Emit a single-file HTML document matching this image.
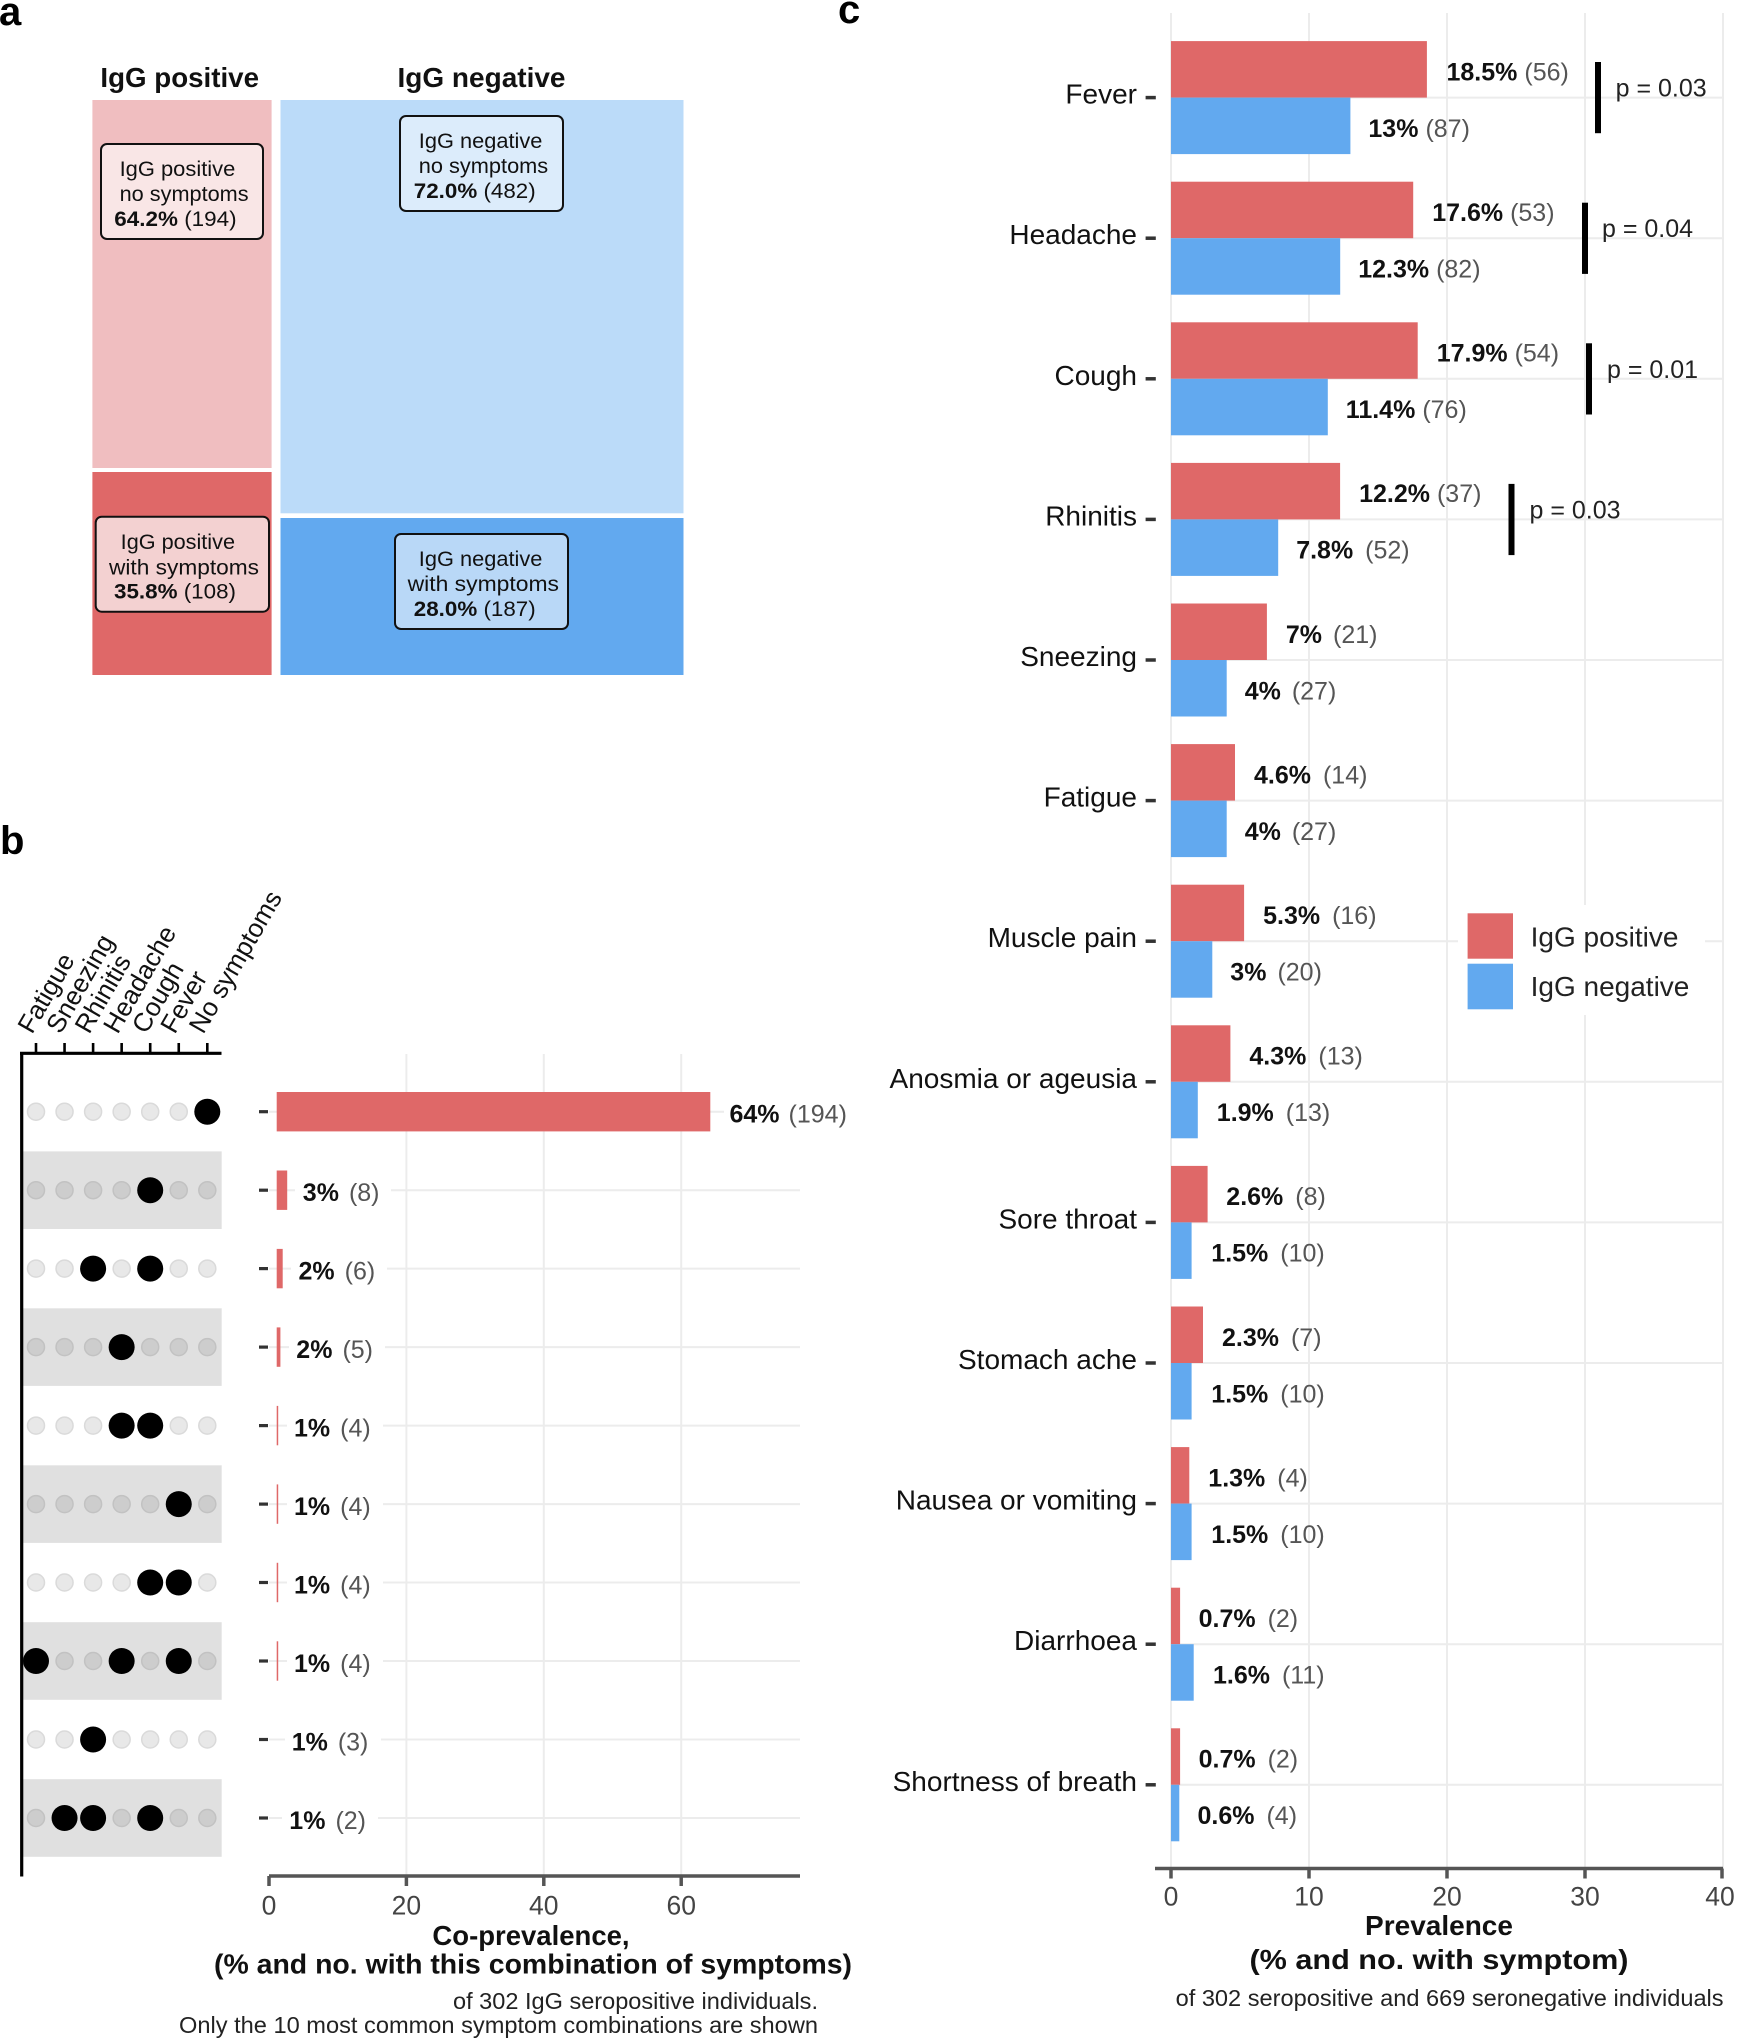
<!DOCTYPE html>
<html><head><meta charset="utf-8">
<style>
html,body{margin:0;padding:0;background:#fff;}
svg{display:block;font-family:"Liberation Sans",Arial,sans-serif;}
.g{fill:#e8e8e8;stroke:#dadada;stroke-width:1.5}
.G{fill:#cdcdcd;stroke:#c2c2c2;stroke-width:1.5}
.k{fill:#000}
.grid{stroke:#ececec;stroke-width:2;fill:none}
.lab{font-size:25px;fill:#111}
.lab .n{fill:#555;font-weight:normal}
.lab .b{font-weight:bold}
.cat{font-size:28px;fill:#111;text-anchor:end}
.tick{font-size:26.5px;fill:#444;text-anchor:middle}
</style></head>
<body>
<svg width="1738" height="2039" viewBox="0 0 1738 2039" xmlns="http://www.w3.org/2000/svg">
<rect x="0" y="0" width="1738" height="2039" fill="#fff"/>

<!-- panel letters -->
<text x="-1" y="25" font-size="40" font-weight="bold" fill="#000">a</text>
<text x="0" y="854" font-size="40" font-weight="bold" fill="#000">b</text>
<text x="838" y="23" font-size="40" font-weight="bold" fill="#000">c</text>

<!-- ================= PANEL A ================= -->
<text x="100.4" y="87" font-size="28" font-weight="bold" fill="#111" textLength="158.6" lengthAdjust="spacingAndGlyphs">IgG positive</text>
<text x="397.5" y="87" font-size="28" font-weight="bold" fill="#111" textLength="168" lengthAdjust="spacingAndGlyphs">IgG negative</text>

<rect x="92.4" y="100" width="179.2" height="368" fill="#f0bec0"/>
<rect x="92.4" y="472" width="179.2" height="203" fill="#df6868"/>
<rect x="280.5" y="100" width="403" height="413.3" fill="#bbdbf9"/>
<rect x="280.5" y="518" width="403" height="157" fill="#62a9ef"/>

<g font-size="21.5" fill="#111">
<rect x="101" y="144" width="162" height="95" rx="6" fill="#f9e6e6" stroke="#111" stroke-width="2"/>
<text x="119.6" y="176" textLength="115.7" lengthAdjust="spacingAndGlyphs">IgG positive</text>
<text x="119.6" y="201" textLength="129" lengthAdjust="spacingAndGlyphs">no symptoms</text>
<text x="114.3" y="226" textLength="122.3" lengthAdjust="spacingAndGlyphs"><tspan font-weight="bold">64.2%</tspan> (194)</text>

<rect x="400" y="116" width="163" height="95" rx="6" fill="#dcecfb" stroke="#111" stroke-width="2"/>
<text x="418.8" y="148" textLength="123.6" lengthAdjust="spacingAndGlyphs">IgG negative</text>
<text x="418.8" y="173" textLength="129.4" lengthAdjust="spacingAndGlyphs">no symptoms</text>
<text x="413.8" y="198" textLength="121.9" lengthAdjust="spacingAndGlyphs"><tspan font-weight="bold">72.0%</tspan> (482)</text>

<rect x="95.7" y="516.7" width="173.3" height="95" rx="6" fill="#f3d1d1" stroke="#111" stroke-width="2"/>
<text x="120.7" y="549" textLength="114.3" lengthAdjust="spacingAndGlyphs">IgG positive</text>
<text x="109" y="574.5" textLength="150" lengthAdjust="spacingAndGlyphs">with  symptoms</text>
<text x="114" y="598.5" textLength="122" lengthAdjust="spacingAndGlyphs"><tspan font-weight="bold">35.8%</tspan> (108)</text>

<rect x="395" y="534" width="173" height="95" rx="6" fill="#b9d8f7" stroke="#111" stroke-width="2"/>
<text x="418.8" y="566" textLength="123.6" lengthAdjust="spacingAndGlyphs">IgG negative</text>
<text x="407.6" y="591" textLength="151.4" lengthAdjust="spacingAndGlyphs">with  symptoms</text>
<text x="413.8" y="616" textLength="121.9" lengthAdjust="spacingAndGlyphs"><tspan font-weight="bold">28.0%</tspan> (187)</text>
</g>

<!-- ================= PANEL B ================= -->
<!-- rotated labels -->
<g font-size="26" fill="#111">
<text transform="translate(32,1035) rotate(-60)">Fatigue</text>
<text transform="translate(60.55,1035) rotate(-60)">Sneezing</text>
<text transform="translate(89.1,1035) rotate(-60)">Rhinitis</text>
<text transform="translate(117.65,1035) rotate(-60)">Headache</text>
<text transform="translate(146.2,1035) rotate(-60)">Cough</text>
<text transform="translate(174.75,1035) rotate(-60)">Fever</text>
<text transform="translate(203.3,1035) rotate(-60)">No symptoms</text>
</g>

<!-- bands -->
<g fill="#e0e0e0">
<rect x="21" y="1151.4" width="200.7" height="77.6"/>
<rect x="21" y="1308.3" width="200.7" height="77.6"/>
<rect x="21" y="1465.3" width="200.7" height="77.6"/>
<rect x="21" y="1622.2" width="200.7" height="77.6"/>
<rect x="21" y="1779.2" width="200.7" height="77.6"/>
</g>

<!-- dots -->
<g>
<circle class="g" cx="36" cy="1111.7" r="8.5"/><circle class="g" cx="64.55" cy="1111.7" r="8.5"/><circle class="g" cx="93.1" cy="1111.7" r="8.5"/><circle class="g" cx="121.65" cy="1111.7" r="8.5"/><circle class="g" cx="150.2" cy="1111.7" r="8.5"/><circle class="g" cx="178.75" cy="1111.7" r="8.5"/><circle class="k" cx="207.3" cy="1111.7" r="13"/>
<circle class="G" cx="36" cy="1190.2" r="8.5"/><circle class="G" cx="64.55" cy="1190.2" r="8.5"/><circle class="G" cx="93.1" cy="1190.2" r="8.5"/><circle class="G" cx="121.65" cy="1190.2" r="8.5"/><circle class="k" cx="150.2" cy="1190.2" r="13"/><circle class="G" cx="178.75" cy="1190.2" r="8.5"/><circle class="G" cx="207.3" cy="1190.2" r="8.5"/>
<circle class="g" cx="36" cy="1268.6" r="8.5"/><circle class="g" cx="64.55" cy="1268.6" r="8.5"/><circle class="k" cx="93.1" cy="1268.6" r="13"/><circle class="g" cx="121.65" cy="1268.6" r="8.5"/><circle class="k" cx="150.2" cy="1268.6" r="13"/><circle class="g" cx="178.75" cy="1268.6" r="8.5"/><circle class="g" cx="207.3" cy="1268.6" r="8.5"/>
<circle class="G" cx="36" cy="1347.1" r="8.5"/><circle class="G" cx="64.55" cy="1347.1" r="8.5"/><circle class="G" cx="93.1" cy="1347.1" r="8.5"/><circle class="k" cx="121.65" cy="1347.1" r="13"/><circle class="G" cx="150.2" cy="1347.1" r="8.5"/><circle class="G" cx="178.75" cy="1347.1" r="8.5"/><circle class="G" cx="207.3" cy="1347.1" r="8.5"/>
<circle class="g" cx="36" cy="1425.6" r="8.5"/><circle class="g" cx="64.55" cy="1425.6" r="8.5"/><circle class="g" cx="93.1" cy="1425.6" r="8.5"/><circle class="k" cx="121.65" cy="1425.6" r="13"/><circle class="k" cx="150.2" cy="1425.6" r="13"/><circle class="g" cx="178.75" cy="1425.6" r="8.5"/><circle class="g" cx="207.3" cy="1425.6" r="8.5"/>
<circle class="G" cx="36" cy="1504.1" r="8.5"/><circle class="G" cx="64.55" cy="1504.1" r="8.5"/><circle class="G" cx="93.1" cy="1504.1" r="8.5"/><circle class="G" cx="121.65" cy="1504.1" r="8.5"/><circle class="G" cx="150.2" cy="1504.1" r="8.5"/><circle class="k" cx="178.75" cy="1504.1" r="13"/><circle class="G" cx="207.3" cy="1504.1" r="8.5"/>
<circle class="g" cx="36" cy="1582.5" r="8.5"/><circle class="g" cx="64.55" cy="1582.5" r="8.5"/><circle class="g" cx="93.1" cy="1582.5" r="8.5"/><circle class="g" cx="121.65" cy="1582.5" r="8.5"/><circle class="k" cx="150.2" cy="1582.5" r="13"/><circle class="k" cx="178.75" cy="1582.5" r="13"/><circle class="g" cx="207.3" cy="1582.5" r="8.5"/>
<circle class="k" cx="36" cy="1661" r="13"/><circle class="G" cx="64.55" cy="1661" r="8.5"/><circle class="G" cx="93.1" cy="1661" r="8.5"/><circle class="k" cx="121.65" cy="1661" r="13"/><circle class="G" cx="150.2" cy="1661" r="8.5"/><circle class="k" cx="178.75" cy="1661" r="13"/><circle class="G" cx="207.3" cy="1661" r="8.5"/>
<circle class="g" cx="36" cy="1739.5" r="8.5"/><circle class="g" cx="64.55" cy="1739.5" r="8.5"/><circle class="k" cx="93.1" cy="1739.5" r="13"/><circle class="g" cx="121.65" cy="1739.5" r="8.5"/><circle class="g" cx="150.2" cy="1739.5" r="8.5"/><circle class="g" cx="178.75" cy="1739.5" r="8.5"/><circle class="g" cx="207.3" cy="1739.5" r="8.5"/>
<circle class="G" cx="36" cy="1818" r="8.5"/><circle class="k" cx="64.55" cy="1818" r="13"/><circle class="k" cx="93.1" cy="1818" r="13"/><circle class="G" cx="121.65" cy="1818" r="8.5"/><circle class="k" cx="150.2" cy="1818" r="13"/><circle class="G" cx="178.75" cy="1818" r="8.5"/><circle class="G" cx="207.3" cy="1818" r="8.5"/>
</g>

<!-- dot-matrix axes -->
<g stroke="#000">
<line x1="20" y1="1053.3" x2="221.5" y2="1053.3" stroke-width="3.2"/>
<line x1="21.7" y1="1052" x2="21.7" y2="1876.5" stroke-width="3.2"/>
<g stroke-width="2.6">
<line x1="36" y1="1043" x2="36" y2="1053"/><line x1="64.55" y1="1043" x2="64.55" y2="1053"/><line x1="93.1" y1="1043" x2="93.1" y2="1053"/><line x1="121.65" y1="1043" x2="121.65" y2="1053"/><line x1="150.2" y1="1043" x2="150.2" y2="1053"/><line x1="178.75" y1="1043" x2="178.75" y2="1053"/><line x1="207.3" y1="1043" x2="207.3" y2="1053"/>
</g>
</g>

<!-- bar gridlines b -->
<g class="grid">
<line x1="406.4" y1="1054" x2="406.4" y2="1876"/>
<line x1="543.8" y1="1054" x2="543.8" y2="1876"/>
<line x1="681.2" y1="1054" x2="681.2" y2="1876"/>
<line x1="269" y1="1111.7" x2="800" y2="1111.7"/>
<line x1="269" y1="1190.2" x2="800" y2="1190.2"/>
<line x1="269" y1="1268.6" x2="800" y2="1268.6"/>
<line x1="269" y1="1347.1" x2="800" y2="1347.1"/>
<line x1="269" y1="1425.6" x2="800" y2="1425.6"/>
<line x1="269" y1="1504.1" x2="800" y2="1504.1"/>
<line x1="269" y1="1582.5" x2="800" y2="1582.5"/>
<line x1="269" y1="1661" x2="800" y2="1661"/>
<line x1="269" y1="1739.5" x2="800" y2="1739.5"/>
<line x1="269" y1="1818" x2="800" y2="1818"/>
</g>

<!-- y ticks b -->
<g stroke="#333" stroke-width="3.2">
<line x1="259" y1="1111.7" x2="268" y2="1111.7"/>
<line x1="259" y1="1190.2" x2="268" y2="1190.2"/>
<line x1="259" y1="1268.6" x2="268" y2="1268.6"/>
<line x1="259" y1="1347.1" x2="268" y2="1347.1"/>
<line x1="259" y1="1425.6" x2="268" y2="1425.6"/>
<line x1="259" y1="1504.1" x2="268" y2="1504.1"/>
<line x1="259" y1="1582.5" x2="268" y2="1582.5"/>
<line x1="259" y1="1661" x2="268" y2="1661"/>
<line x1="259" y1="1739.5" x2="268" y2="1739.5"/>
<line x1="259" y1="1818" x2="268" y2="1818"/>
</g>

<!-- bars b -->
<g fill="#df6868">
<rect x="276.7" y="1092" width="433.6" height="39.4"/>
<rect x="276.7" y="1170.5" width="10.5" height="39.4"/>
<rect x="276.7" y="1248.9" width="6" height="39.4"/>
<rect x="276.7" y="1327.4" width="3.7" height="39.4"/>
<rect x="276.7" y="1405.9" width="1.5" height="39.4"/>
<rect x="276.7" y="1484.4" width="1.5" height="39.4"/>
<rect x="276.7" y="1562.8" width="1.5" height="39.4"/>
<rect x="276.7" y="1641.3" width="1.5" height="39.4"/>
</g>

<!-- label backgrounds b -->
<g fill="#fff">
<rect x="724" y="1094" width="132" height="36"/>
<rect x="295" y="1172" width="96" height="36"/>
<rect x="291" y="1250.6" width="96" height="36"/>
<rect x="289" y="1329.1" width="96" height="36"/>
<rect x="287" y="1407.6" width="96" height="36"/>
<rect x="287" y="1486.1" width="96" height="36"/>
<rect x="287" y="1564.5" width="96" height="36"/>
<rect x="287" y="1643" width="96" height="36"/>
<rect x="285" y="1721.5" width="96" height="36"/>
<rect x="282" y="1800" width="96" height="36"/>
</g>

<!-- labels b -->
<g class="lab">
<text x="729.5" y="1122.7"><tspan class="b">64%</tspan><tspan class="n" dx="9">(194)</tspan></text>
<text x="302.8" y="1201.2"><tspan class="b">3%</tspan><tspan class="n" dx="10">(8)</tspan></text>
<text x="298.5" y="1279.6"><tspan class="b">2%</tspan><tspan class="n" dx="10">(6)</tspan></text>
<text x="296.3" y="1358.1"><tspan class="b">2%</tspan><tspan class="n" dx="10">(5)</tspan></text>
<text x="294" y="1436.6"><tspan class="b">1%</tspan><tspan class="n" dx="10">(4)</tspan></text>
<text x="294" y="1515.1"><tspan class="b">1%</tspan><tspan class="n" dx="10">(4)</tspan></text>
<text x="294" y="1593.5"><tspan class="b">1%</tspan><tspan class="n" dx="10">(4)</tspan></text>
<text x="294" y="1672"><tspan class="b">1%</tspan><tspan class="n" dx="10">(4)</tspan></text>
<text x="291.7" y="1750.5"><tspan class="b">1%</tspan><tspan class="n" dx="10">(3)</tspan></text>
<text x="289.3" y="1829"><tspan class="b">1%</tspan><tspan class="n" dx="10">(2)</tspan></text>
</g>

<!-- x axis b -->
<g stroke="#555" stroke-width="3.5">
<line x1="269" y1="1876" x2="800" y2="1876"/>
<line x1="269" y1="1876" x2="269" y2="1886"/>
<line x1="406.4" y1="1876" x2="406.4" y2="1886"/>
<line x1="543.8" y1="1876" x2="543.8" y2="1886"/>
<line x1="681.2" y1="1876" x2="681.2" y2="1886"/>
</g>
<g class="tick">
<text x="269" y="1914.5">0</text>
<text x="406.4" y="1914.5">20</text>
<text x="543.8" y="1914.5">40</text>
<text x="681.2" y="1914.5">60</text>
</g>
<text x="531" y="1945" font-size="27.5" font-weight="bold" fill="#111" text-anchor="middle">Co-prevalence,</text>
<text x="214" y="1973.5" font-size="28" font-weight="bold" fill="#111" textLength="638" lengthAdjust="spacingAndGlyphs">(% and no. with this combination of symptoms)</text>
<text x="453" y="2009" font-size="23.5" fill="#222" textLength="365" lengthAdjust="spacingAndGlyphs">of 302 IgG seropositive individuals.</text>
<text x="179" y="2033" font-size="23.5" fill="#222" textLength="639" lengthAdjust="spacingAndGlyphs">Only the 10 most common symptom combinations are shown</text>

<!-- ================= PANEL C ================= -->
<g class="grid">
<line x1="1171" y1="13" x2="1171" y2="1868"/>
<line x1="1309" y1="13" x2="1309" y2="1868"/>
<line x1="1447" y1="13" x2="1447" y2="1868"/>
<line x1="1585" y1="13" x2="1585" y2="1868"/>
<line x1="1723" y1="13" x2="1723" y2="1868"/>
<line x1="1171" y1="97.6" x2="1723" y2="97.6"/>
<line x1="1171" y1="238.2" x2="1723" y2="238.2"/>
<line x1="1171" y1="378.8" x2="1723" y2="378.8"/>
<line x1="1171" y1="519.4" x2="1723" y2="519.4"/>
<line x1="1171" y1="660" x2="1723" y2="660"/>
<line x1="1171" y1="800.6" x2="1723" y2="800.6"/>
<line x1="1171" y1="941.2" x2="1723" y2="941.2"/>
<line x1="1171" y1="1081.8" x2="1723" y2="1081.8"/>
<line x1="1171" y1="1222.4" x2="1723" y2="1222.4"/>
<line x1="1171" y1="1363" x2="1723" y2="1363"/>
<line x1="1171" y1="1503.6" x2="1723" y2="1503.6"/>
<line x1="1171" y1="1644.2" x2="1723" y2="1644.2"/>
<line x1="1171" y1="1784.8" x2="1723" y2="1784.8"/>
</g>

<!-- red bars -->
<g fill="#df6868">
<rect x="1171" y="41.1" width="255.9" height="56.5"/>
<rect x="1171" y="181.7" width="242.2" height="56.5"/>
<rect x="1171" y="322.3" width="246.7" height="56.5"/>
<rect x="1171" y="462.9" width="169.1" height="56.5"/>
<rect x="1171" y="603.5" width="95.9" height="56.5"/>
<rect x="1171" y="744.1" width="64" height="56.5"/>
<rect x="1171" y="884.7" width="73.1" height="56.5"/>
<rect x="1171" y="1025.3" width="59.4" height="56.5"/>
<rect x="1171" y="1165.9" width="36.6" height="56.5"/>
<rect x="1171" y="1306.5" width="32" height="56.5"/>
<rect x="1171" y="1447.1" width="18.3" height="56.5"/>
<rect x="1171" y="1587.7" width="9.1" height="56.5"/>
<rect x="1171" y="1728.3" width="9.1" height="56.5"/>
</g>
<!-- blue bars -->
<g fill="#62a9ef">
<rect x="1171" y="97.6" width="179.4" height="56.5"/>
<rect x="1171" y="238.2" width="169.2" height="56.5"/>
<rect x="1171" y="378.8" width="156.8" height="56.5"/>
<rect x="1171" y="519.4" width="107.2" height="56.5"/>
<rect x="1171" y="660" width="55.7" height="56.5"/>
<rect x="1171" y="800.6" width="55.7" height="56.5"/>
<rect x="1171" y="941.2" width="41.3" height="56.5"/>
<rect x="1171" y="1081.8" width="26.8" height="56.5"/>
<rect x="1171" y="1222.4" width="20.6" height="56.5"/>
<rect x="1171" y="1363" width="20.6" height="56.5"/>
<rect x="1171" y="1503.6" width="20.6" height="56.5"/>
<rect x="1171" y="1644.2" width="22.7" height="56.5"/>
<rect x="1171" y="1784.8" width="8.3" height="56.5"/>
</g>

<!-- y ticks c -->
<g stroke="#333" stroke-width="3.5">
<line x1="1145.6" y1="97.6" x2="1155.8" y2="97.6"/>
<line x1="1145.6" y1="238.2" x2="1155.8" y2="238.2"/>
<line x1="1145.6" y1="378.8" x2="1155.8" y2="378.8"/>
<line x1="1145.6" y1="519.4" x2="1155.8" y2="519.4"/>
<line x1="1145.6" y1="660" x2="1155.8" y2="660"/>
<line x1="1145.6" y1="800.6" x2="1155.8" y2="800.6"/>
<line x1="1145.6" y1="941.2" x2="1155.8" y2="941.2"/>
<line x1="1145.6" y1="1081.8" x2="1155.8" y2="1081.8"/>
<line x1="1145.6" y1="1222.4" x2="1155.8" y2="1222.4"/>
<line x1="1145.6" y1="1363" x2="1155.8" y2="1363"/>
<line x1="1145.6" y1="1503.6" x2="1155.8" y2="1503.6"/>
<line x1="1145.6" y1="1644.2" x2="1155.8" y2="1644.2"/>
<line x1="1145.6" y1="1784.8" x2="1155.8" y2="1784.8"/>
</g>

<!-- category labels -->
<g class="cat">
<text x="1137" y="103.6">Fever</text>
<text x="1137" y="244.2">Headache</text>
<text x="1137" y="384.8">Cough</text>
<text x="1137" y="525.4">Rhinitis</text>
<text x="1137" y="666">Sneezing</text>
<text x="1137" y="806.6">Fatigue</text>
<text x="1137" y="947.2">Muscle pain</text>
<text x="1137" y="1087.8">Anosmia or ageusia</text>
<text x="1137" y="1228.4">Sore throat</text>
<text x="1137" y="1369">Stomach ache</text>
<text x="1137" y="1509.6">Nausea or vomiting</text>
<text x="1137" y="1650.2">Diarrhoea</text>
<text x="1137" y="1790.8">Shortness of breath</text>
</g>

<!-- value labels c -->
<g class="lab">
<text x="1446.5" y="80.4"><tspan class="b">18.5%</tspan><tspan class="n" dx="7">(56)</tspan></text>
<text x="1368.4" y="136.9"><tspan class="b">13%</tspan><tspan class="n" dx="7">(87)</tspan></text>
<text x="1432.2" y="221"><tspan class="b">17.6%</tspan><tspan class="n" dx="7">(53)</tspan></text>
<text x="1358.2" y="277.5"><tspan class="b">12.3%</tspan><tspan class="n" dx="7">(82)</tspan></text>
<text x="1436.7" y="361.6"><tspan class="b">17.9%</tspan><tspan class="n" dx="7">(54)</tspan></text>
<text x="1345.8" y="418.1"><tspan class="b">11.4%</tspan><tspan class="n" dx="7">(76)</tspan></text>
<text x="1359.1" y="502.2"><tspan class="b">12.2%</tspan><tspan class="n" dx="7">(37)</tspan></text>
<text x="1296.2" y="558.7"><tspan class="b">7.8%</tspan><tspan class="n" dx="12">(52)</tspan></text>
<text x="1285.9" y="642.8"><tspan class="b">7%</tspan><tspan class="n" dx="11">(21)</tspan></text>
<text x="1244.7" y="699.3"><tspan class="b">4%</tspan><tspan class="n" dx="11">(27)</tspan></text>
<text x="1254" y="783.4"><tspan class="b">4.6%</tspan><tspan class="n" dx="12">(14)</tspan></text>
<text x="1244.7" y="839.9"><tspan class="b">4%</tspan><tspan class="n" dx="11">(27)</tspan></text>
<text x="1263.1" y="924"><tspan class="b">5.3%</tspan><tspan class="n" dx="12">(16)</tspan></text>
<text x="1230.3" y="980.5"><tspan class="b">3%</tspan><tspan class="n" dx="11">(20)</tspan></text>
<text x="1249.4" y="1064.6"><tspan class="b">4.3%</tspan><tspan class="n" dx="12">(13)</tspan></text>
<text x="1216.8" y="1121.1"><tspan class="b">1.9%</tspan><tspan class="n" dx="12">(13)</tspan></text>
<text x="1226.3" y="1205.2"><tspan class="b">2.6%</tspan><tspan class="n" dx="12">(8)</tspan></text>
<text x="1211.3" y="1261.7"><tspan class="b">1.5%</tspan><tspan class="n" dx="12">(10)</tspan></text>
<text x="1222" y="1345.8"><tspan class="b">2.3%</tspan><tspan class="n" dx="12">(7)</tspan></text>
<text x="1211.3" y="1402.3"><tspan class="b">1.5%</tspan><tspan class="n" dx="12">(10)</tspan></text>
<text x="1208.3" y="1486.4"><tspan class="b">1.3%</tspan><tspan class="n" dx="12">(4)</tspan></text>
<text x="1211.3" y="1542.9"><tspan class="b">1.5%</tspan><tspan class="n" dx="12">(10)</tspan></text>
<text x="1198.6" y="1627"><tspan class="b">0.7%</tspan><tspan class="n" dx="12">(2)</tspan></text>
<text x="1213" y="1683.5"><tspan class="b">1.6%</tspan><tspan class="n" dx="12">(11)</tspan></text>
<text x="1198.6" y="1767.6"><tspan class="b">0.7%</tspan><tspan class="n" dx="12">(2)</tspan></text>
<text x="1197.5" y="1824.1"><tspan class="b">0.6%</tspan><tspan class="n" dx="12">(4)</tspan></text>
</g>

<!-- p-value brackets -->
<g fill="#000">
<rect x="1595" y="62" width="6" height="71.2"/>
<rect x="1582" y="202.7" width="6" height="71.2"/>
<rect x="1586" y="343.3" width="6" height="71.2"/>
<rect x="1508.5" y="483.9" width="6" height="71.2"/>
</g>
<g font-size="25" fill="#222">
<text x="1615.6" y="96.6">p = 0.03</text>
<text x="1602" y="237.2">p = 0.04</text>
<text x="1607" y="377.8">p = 0.01</text>
<text x="1529.5" y="518.4">p = 0.03</text>
</g>

<!-- legend -->
<rect x="1458" y="905" width="247" height="110" fill="#fff"/>
<rect x="1467.6" y="913.3" width="45.4" height="45.4" fill="#df6868"/>
<rect x="1467.6" y="963.7" width="45.4" height="45.6" fill="#62a9ef"/>
<text x="1530.6" y="946.7" font-size="28" fill="#222">IgG positive</text>
<text x="1530.6" y="996" font-size="28" fill="#222">IgG negative</text>

<!-- x axis c -->
<g stroke="#555" stroke-width="3.5">
<line x1="1155" y1="1868.5" x2="1723" y2="1868.5"/>
<line x1="1171" y1="1868.5" x2="1171" y2="1878.5"/>
<line x1="1309" y1="1868.5" x2="1309" y2="1878.5"/>
<line x1="1447" y1="1868.5" x2="1447" y2="1878.5"/>
<line x1="1585" y1="1868.5" x2="1585" y2="1878.5"/>
<line x1="1722" y1="1868.5" x2="1722" y2="1878.5"/>
</g>
<g class="tick">
<text x="1171" y="1905.5">0</text>
<text x="1309" y="1905.5">10</text>
<text x="1447" y="1905.5">20</text>
<text x="1585" y="1905.5">30</text>
<text x="1720" y="1905.5">40</text>
</g>
<text x="1439" y="1935" font-size="28" font-weight="bold" fill="#111" text-anchor="middle">Prevalence</text>
<text x="1249.5" y="1969" font-size="28" font-weight="bold" fill="#111" textLength="379" lengthAdjust="spacingAndGlyphs">(% and no. with symptom)</text>
<text x="1175.6" y="2006" font-size="23.5" fill="#222" textLength="548" lengthAdjust="spacingAndGlyphs">of 302 seropositive and 669 seronegative individuals</text>
</svg>
</body></html>
